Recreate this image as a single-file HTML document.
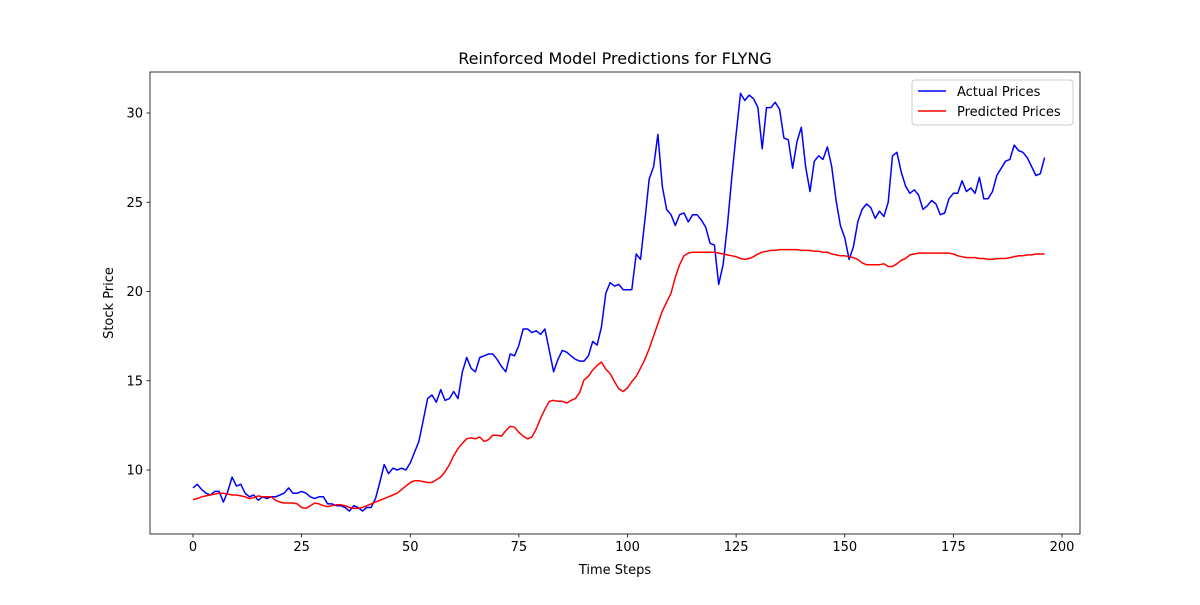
<!DOCTYPE html>
<html><head><meta charset="utf-8"><style>
body{margin:0;background:#fff;}
svg text{font-family:"DejaVu Sans","Liberation Sans",sans-serif;fill:#000;}
</style></head><body>
<svg id="chart" width="1200" height="600" xmlns="http://www.w3.org/2000/svg">
<rect width="1200" height="600" fill="#fff"/>
<g id="plot"></g>
</svg>
<script>
const actualPrices=[9.0,9.2,8.9,8.7,8.6,8.8,8.8,8.2,8.8,9.6,9.1,9.2,8.7,8.5,8.6,8.3,8.5,8.4,8.5,8.5,8.6,8.7,9.0,8.7,8.7,8.8,8.7,8.5,8.4,8.5,8.5,8.1,8.1,8.0,8.0,7.9,7.7,8.0,7.9,7.7,7.9,7.9,8.4,9.3,10.3,9.8,10.1,10.0,10.1,10.0,10.4,11.0,11.6,12.8,14.0,14.2,13.8,14.5,13.9,14.0,14.4,14.0,15.5,16.3,15.7,15.5,16.3,16.4,16.5,16.5,16.2,15.8,15.5,16.5,16.4,17.0,17.9,17.9,17.7,17.8,17.6,17.9,16.7,15.5,16.2,16.7,16.6,16.4,16.2,16.1,16.1,16.4,17.2,17.0,18.0,19.9,20.5,20.3,20.4,20.1,20.1,20.1,22.1,21.8,24.0,26.3,27.0,28.8,25.9,24.6,24.3,23.7,24.3,24.4,23.9,24.3,24.3,24.0,23.6,22.7,22.6,20.4,21.5,23.7,26.4,28.8,31.1,30.7,31.0,30.8,30.3,28.0,30.3,30.3,30.6,30.2,28.6,28.5,26.9,28.4,29.2,27.0,25.6,27.3,27.6,27.4,28.1,27.0,25.1,23.7,23.0,21.8,22.5,23.9,24.6,24.9,24.7,24.1,24.5,24.2,25.0,27.6,27.8,26.7,25.9,25.5,25.7,25.4,24.6,24.8,25.1,24.9,24.3,24.4,25.2,25.5,25.5,26.2,25.6,25.8,25.5,26.4,25.2,25.2,25.6,26.5,26.9,27.3,27.4,28.2,27.9,27.8,27.5,27.0,26.5,26.6,27.5];
const predictedPrices=[8.35,8.4,8.5,8.55,8.6,8.65,8.7,8.7,8.65,8.6,8.6,8.55,8.5,8.4,8.45,8.55,8.5,8.5,8.5,8.3,8.2,8.15,8.15,8.15,8.1,7.9,7.85,8.0,8.15,8.1,8.0,7.95,8.0,8.05,8.05,8.0,7.9,7.85,7.85,7.9,8.0,8.1,8.2,8.3,8.4,8.5,8.6,8.7,8.9,9.1,9.3,9.4,9.4,9.35,9.3,9.3,9.45,9.6,9.9,10.3,10.8,11.2,11.5,11.75,11.8,11.75,11.85,11.6,11.7,11.95,11.95,11.9,12.2,12.45,12.4,12.1,11.9,11.75,11.85,12.3,12.9,13.4,13.85,13.9,13.85,13.85,13.75,13.9,14.0,14.35,15.05,15.25,15.6,15.85,16.05,15.65,15.4,14.95,14.55,14.4,14.6,14.95,15.25,15.7,16.2,16.8,17.5,18.2,18.9,19.4,19.9,20.8,21.5,22.0,22.15,22.2,22.2,22.2,22.2,22.2,22.2,22.15,22.1,22.05,22.0,21.95,21.85,21.8,21.85,21.95,22.1,22.2,22.25,22.3,22.3,22.35,22.35,22.35,22.35,22.35,22.3,22.3,22.3,22.25,22.25,22.2,22.2,22.1,22.05,22.0,22.0,21.95,21.9,21.8,21.6,21.5,21.5,21.5,21.5,21.55,21.4,21.4,21.55,21.75,21.85,22.05,22.1,22.15,22.15,22.15,22.15,22.15,22.15,22.15,22.15,22.1,22.0,21.95,21.9,21.9,21.9,21.85,21.85,21.8,21.8,21.85,21.85,21.85,21.9,21.95,22.0,22.0,22.05,22.05,22.1,22.1,22.1];
const xTicks=[0,25,50,75,100,125,150,175,200];
const yTicks=[10,15,20,25,30];

const L=150,R=1080,T=72,B=534;
const xs=v=>193+v*(1062-193)/200;
const ys=v=>470-(v-10)*(470-113)/20;
const NS='http://www.w3.org/2000/svg';
const g=document.getElementById('plot');
function mk(tag,attrs,parent){const e=document.createElementNS(NS,tag);for(const k in attrs)e.setAttribute(k,attrs[k]);(parent||g).appendChild(e);return e;}

function line(arr,color,name){
  const d=arr.map((v,i)=>(i?'L':'M')+xs(i).toFixed(1)+','+ys(v).toFixed(1)).join('');
  const p=mk('path',{d:d,fill:'none',stroke:color,'stroke-width':1.5,'stroke-linejoin':'round'});
  
  
}
line(actualPrices,'#0000ff','actual-prices-line');
line(predictedPrices,'#ff0000','predicted-prices-line');

const frame=mk('rect',{x:L,y:T,width:R-L,height:B-T,fill:'none',stroke:'#000','stroke-width':0.8});



xTicks.forEach(t=>{
  const x=xs(t);
  mk('line',{x1:x,x2:x,y1:B,y2:B+3.5,stroke:'#000','stroke-width':0.8});
  const tx=mk('text',{x:x,y:B+17,'text-anchor':'middle','font-size':13});
  tx.textContent=t;
  
  
});
yTicks.forEach(t=>{
  const y=ys(t);
  mk('line',{x1:L-3.5,x2:L,y1:y,y2:y,stroke:'#000','stroke-width':0.8});
  const tx=mk('text',{x:L-7,y:y+4.5,'text-anchor':'end','font-size':13});
  tx.textContent=t;
  
  
});

const title=mk('text',{x:615,y:64,'text-anchor':'middle','font-size':16});
title.textContent='Reinforced Model Predictions for FLYNG';


const xl=mk('text',{x:615,y:574,'text-anchor':'middle','font-size':13});
xl.textContent='Time Steps';


const yl=mk('text',{x:113,y:303,'text-anchor':'middle','font-size':13,transform:'rotate(-90 113 303)'});
yl.textContent='Stock Price';



const lg=mk('g',{});


mk('rect',{x:912,y:80,width:161,height:45,rx:3,fill:'#fff','fill-opacity':0.8,stroke:'#ccc','stroke-width':1},lg);
[['Actual Prices','#0000ff',91],['Predicted Prices','#ff0000',111]].forEach(([lab,c,y])=>{
  const e=mk('g',{},lg);
  
  
  mk('line',{x1:918,x2:946,y1:y,y2:y,stroke:c,'stroke-width':1.5},e);
  const t=mk('text',{x:957,y:y+5,'font-size':13},e);
  t.textContent=lab;
});
</script>
</body></html>
